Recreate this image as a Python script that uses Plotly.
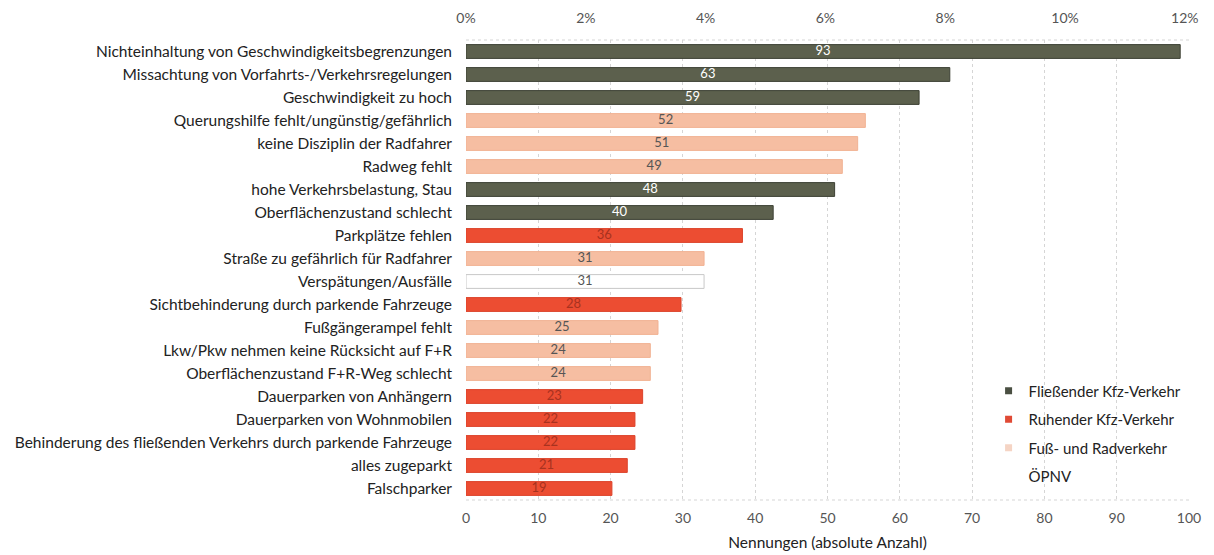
import plotly.graph_objects as go

# Categories from top to bottom, with absolute counts and group
categories = [
    "Nichteinhaltung von Geschwindigkeitsbegrenzungen",
    "Missachtung von Vorfahrts-/Verkehrsregelungen",
    "Geschwindigkeit zu hoch",
    "Querungshilfe fehlt/ungünstig/gefährlich",
    "keine Disziplin der Radfahrer",
    "Radweg fehlt",
    "hohe Verkehrsbelastung, Stau",
    "Oberflächenzustand schlecht",
    "Parkplätze fehlen",
    "Straße zu gefährlich für Radfahrer",
    "Verspätungen/Ausfälle",
    "Sichtbehinderung durch parkende Fahrzeuge",
    "Fußgängerampel fehlt",
    "Lkw/Pkw nehmen keine Rücksicht auf F+R",
    "Oberflächenzustand F+R-Weg schlecht",
    "Dauerparken von Anhängern",
    "Dauerparken von Wohnmobilen",
    "Behinderung des fließenden Verkehrs durch parkende Fahrzeuge",
    "alles zugeparkt",
    "Falschparker",
]
counts = [93, 63, 59, 52, 51, 49, 48, 40, 36, 31, 31, 28, 25, 24, 24, 23, 22, 22, 21, 19]
groups = [
    "Fließender Kfz-Verkehr", "Fließender Kfz-Verkehr", "Fließender Kfz-Verkehr",
    "Fuß- und Radverkehr", "Fuß- und Radverkehr", "Fuß- und Radverkehr",
    "Fließender Kfz-Verkehr", "Fließender Kfz-Verkehr",
    "Ruhender Kfz-Verkehr", "Fuß- und Radverkehr", "ÖPNV",
    "Ruhender Kfz-Verkehr", "Fuß- und Radverkehr", "Fuß- und Radverkehr",
    "Fuß- und Radverkehr", "Ruhender Kfz-Verkehr", "Ruhender Kfz-Verkehr",
    "Ruhender Kfz-Verkehr", "Ruhender Kfz-Verkehr", "Ruhender Kfz-Verkehr",
]
group_order = ["Fließender Kfz-Verkehr", "Ruhender Kfz-Verkehr", "Fuß- und Radverkehr", "ÖPNV"]
# total number of answers (bars are drawn as share of this)
total_mentions = 780

FONT = "Lato"
styles = {
    "Fließender Kfz-Verkehr": dict(color="#5c604d", line="#3d4034", text="white", legend="#4a4f42"),
    "Ruhender Kfz-Verkehr": dict(color="#ec4d32", line="#dc432b", text="#a8321f", legend="#e04a35"),
    "Fuß- und Radverkehr": dict(color="#f6bea2", line="#f1b293", text="#555555", legend="#f5d4c4"),
    "ÖPNV": dict(color="white", line="#c8c8c8", text="#555555", legend="white"),
}

fig = go.Figure()
for g in group_order:
    idx = [i for i, gg in enumerate(groups) if gg == g]
    st = styles[g]
    cats = [categories[i] for i in idx]
    shares = [counts[i] / total_mentions * 100 for i in idx]
    fig.add_trace(
        go.Bar(
            y=cats,
            x=shares,
            orientation="h",
            name=g,
            xaxis="x2",
            width=0.6,
            marker=dict(color=st["color"], line=dict(color=st["line"], width=1)),
            showlegend=False,
            hoverinfo="skip",
        )
    )
    # value labels in the middle of each bar
    fig.add_trace(
        go.Scatter(
            y=cats,
            x=[s / 2 for s in shares],
            text=[str(counts[i]) for i in idx],
            mode="text",
            xaxis="x2",
            textfont=dict(family=FONT, size=13, color=st["text"]),
            showlegend=False,
            hoverinfo="skip",
        )
    )
    # legend entry with a small square
    fig.add_trace(
        go.Scatter(
            x=[None],
            y=[None],
            mode="markers",
            name=g,
            legendgroup=g,
            marker=dict(symbol="square", size=7, color=st["legend"]),
        )
    )

# invisible trace on the absolute-count axis so it gets drawn
fig.add_trace(
    go.Scatter(
        x=counts,
        y=categories,
        mode="markers",
        marker=dict(opacity=0),
        xaxis="x",
        showlegend=False,
        hoverinfo="skip",
    )
)

# dotted frame lines top and bottom
for yy in (0, 1):
    fig.add_shape(
        type="line", xref="paper", yref="paper", x0=0, x1=1, y0=yy, y1=yy,
        line=dict(color="#d5d5d5", width=1, dash="dot"),
    )

fig.update_layout(
    width=1214,
    height=555,
    paper_bgcolor="white",
    plot_bgcolor="white",
    margin=dict(l=458, r=33, t=32, b=63),
    barmode="overlay",
    font=dict(family=FONT, size=15, color="#222222"),
    xaxis=dict(
        range=[0, 100],
        dtick=10,
        side="bottom",
        showgrid=True,
        gridcolor="#d5d5d5",
        griddash="dot",
        zeroline=False,
        showline=False,
        ticks="",
        automargin=False,
        ticklabelstandoff=8,
        tickfont=dict(family=FONT, size=14, color="#555555"),
        title=dict(text="Nennungen (absolute Anzahl)", font=dict(family=FONT, size=15.5, color="#222222"), standoff=12),
    ),
    xaxis2=dict(
        range=[0, 12.07],
        dtick=2,
        ticksuffix="%",
        side="top",
        overlaying="x",
        showgrid=False,
        zeroline=False,
        showline=False,
        ticks="",
        automargin=False,
        ticklabelstandoff=13,
        tickfont=dict(family=FONT, size=14, color="#555555"),
    ),
    yaxis=dict(
        categoryorder="array",
        categoryarray=categories,
        range=[19.5, -0.5],
        showgrid=False,
        ticks="",
        automargin=False,
        ticklabelstandoff=13,
        tickfont=dict(family=FONT, size=15.5, color="#222222"),
    ),
    legend=dict(
        x=0.7228,
        y=0.2726,
        xanchor="left",
        yanchor="top",
        bgcolor="rgba(255,255,255,0)",
        font=dict(family=FONT, size=15, color="#222222"),
        traceorder="grouped",
        tracegroupgap=6,
        itemwidth=30,
    ),
)

fig.write_html("out.html")
